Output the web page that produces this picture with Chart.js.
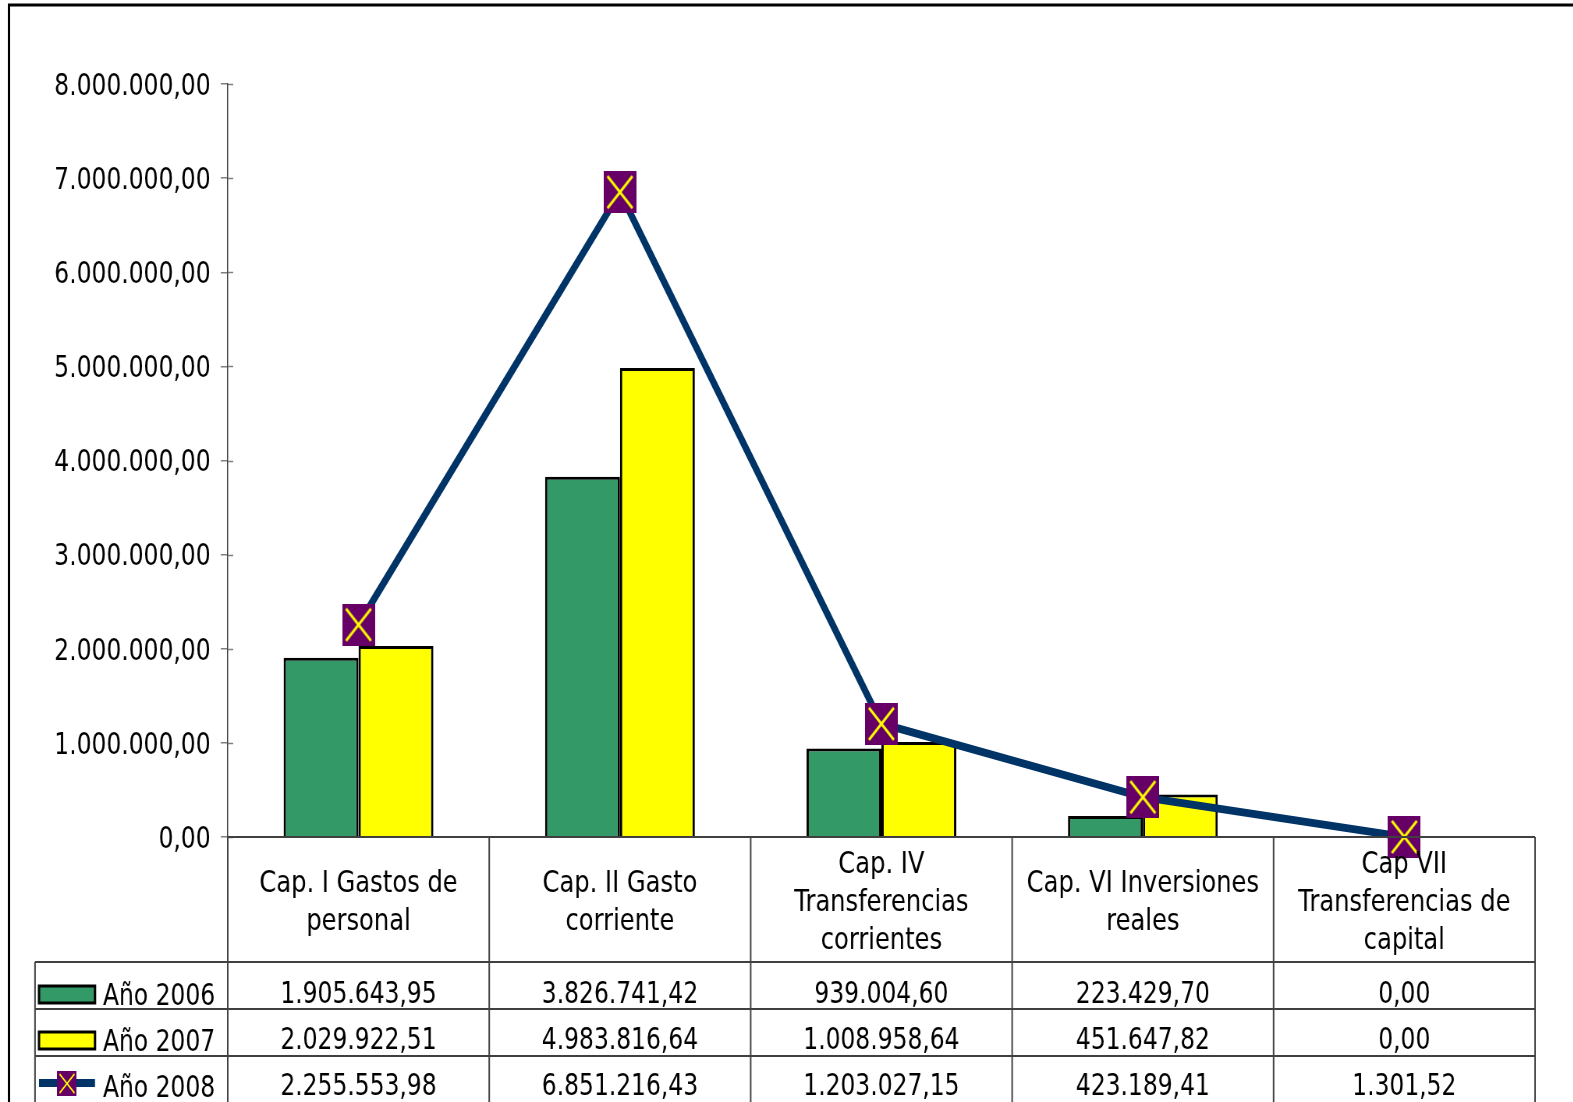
<!DOCTYPE html>
<html>
<head>
<meta charset="utf-8">
<script src="https://cdn.jsdelivr.net/npm/chart.js@4"></script>
<style>
  body { margin: 0; overflow: hidden; background: #fff; }
  /* the original picture is squeezed horizontally, so draw wide and squeeze */
  #wrap { width: 2017px; height: 1102px; transform: scaleX(0.78); transform-origin: 0 0; }
</style>
</head>
<body>
<div id="wrap"><canvas id="chart"></canvas></div>
<script>
// Data
const categories = [
  ["Cap. I Gastos de", "personal"],
  ["Cap. II Gasto", "corriente"],
  ["Cap. IV", "Transferencias", "corrientes"],
  ["Cap. VI Inversiones", "reales"],
  ["Cap VII", "Transferencias de", "capital"]
];
const seriesNames = ["Año 2006", "Año 2007", "Año 2008"];
const values2006 = [1905643.95, 3826741.42, 939004.60, 223429.70, 0];
const values2007 = [2029922.51, 4983816.64, 1008958.64, 451647.82, 0];
const values2008 = [2255553.98, 6851216.43, 1203027.15, 423189.41, 1301.52];
const yMax = 8000000;
const yStep = 1000000;

const FONT = "'DejaVu Sans', sans-serif";
const SX = 0.78;

function fmt(v) {
  const parts = v.toFixed(2).split('.');
  return parts[0].replace(/\B(?=(\d{3})+(?!\d))/g, '.') + ',' + parts[1];
}

// marker: purple square with yellow cross
const marker = document.createElement('canvas');
marker.width = 42; marker.height = 42;
(function () {
  const m = marker.getContext('2d');
  m.fillStyle = '#660066';
  m.fillRect(0, 0, 42, 42);
  m.strokeStyle = '#ffff00';
  m.lineWidth = 3;
  m.beginPath();
  m.moveTo(5, 5); m.lineTo(37, 37);
  m.moveTo(37, 5); m.lineTo(5, 37);
  m.stroke();
})();

const tablePlugin = {
  id: 'tablePlugin',
  afterDraw(chart) {
    const ctx = chart.ctx;
    const area = chart.chartArea;
    const left = area.left, right = area.right, bottom = area.bottom;
    const H = chart.height;
    const n = categories.length;
    const cw = (right - left) / n;
    const rows = [962, 1009, 1056];
    const tableLeft = 35 / SX;

    ctx.save();
    // frame
    ctx.strokeStyle = '#000';
    ctx.lineWidth = 3;
    ctx.beginPath();
    ctx.moveTo(11.5, H + 5);
    ctx.lineTo(11.5, 5);
    ctx.lineTo(chart.width + 5, 5);
    ctx.stroke();

    // inner part of y ticks
    const y = chart.scales.y;
    ctx.strokeStyle = '#808080';
    ctx.lineWidth = 1.5;
    y.ticks.forEach(t => {
      const py = Math.round(y.getPixelForValue(t.value)) + 0.5;
      ctx.beginPath();
      ctx.moveTo(left, py);
      ctx.lineTo(left + 7, py);
      ctx.stroke();
    });

    // table grid
    ctx.strokeStyle = '#404040';
    ctx.lineWidth = 2;
    ctx.beginPath();
    ctx.moveTo(left, bottom); ctx.lineTo(right, bottom);
    for (let i = 0; i <= n; i++) {
      const x = left + i * cw;
      ctx.moveTo(x, bottom); ctx.lineTo(x, H);
    }
    rows.forEach(r => { ctx.moveTo(tableLeft, r); ctx.lineTo(right, r); });
    ctx.moveTo(tableLeft, rows[0]); ctx.lineTo(tableLeft, H);
    ctx.stroke();

    // category labels
    ctx.fillStyle = '#000';
    ctx.font = '31px ' + FONT;
    ctx.textAlign = 'center';
    ctx.textBaseline = 'alphabetic';
    categories.forEach((lines, i) => {
      const cx = left + (i + 0.5) * cw;
      lines.forEach((ln, k) => {
        ctx.fillText(ln, cx, 900 - (lines.length - 1) * 19 + k * 38 + 11);
      });
    });

    // values
    ctx.font = '30px ' + FONT;
    const all = [values2006, values2007, values2008];
    const baselines = [1003, 1049, 1095];
    all.forEach((vals, r) => {
      vals.forEach((v, i) => {
        ctx.fillText(fmt(v), left + (i + 0.5) * cw, baselines[r]);
      });
    });

    // legend keys
    ctx.textAlign = 'left';
    const kx0 = 39 / SX, kx1 = 95 / SX;
    ctx.lineWidth = 3;
    ctx.strokeStyle = '#000';
    ctx.fillStyle = '#339966';
    ctx.fillRect(kx0, 986, kx1 - kx0, 17);
    ctx.strokeRect(kx0, 986, kx1 - kx0, 17);
    ctx.fillStyle = '#ffff00';
    ctx.fillRect(kx0, 1032, kx1 - kx0, 17);
    ctx.strokeRect(kx0, 1032, kx1 - kx0, 17);
    ctx.strokeStyle = '#003366';
    ctx.lineWidth = 8;
    ctx.beginPath();
    ctx.moveTo(kx0, 1083); ctx.lineTo(kx1, 1083);
    ctx.stroke();
    ctx.drawImage(marker, (kx0 + kx1) / 2 - 12.5, 1071, 25, 25);

    ctx.fillStyle = '#000';
    seriesNames.forEach((s, r) => {
      ctx.fillText(s, 103 / SX, baselines[r] + 2);
    });
    ctx.restore();
  }
};

const ctx = document.getElementById('chart').getContext('2d');
const chart = new Chart(ctx, {
  data: {
    labels: categories,
    datasets: [
      {
        type: 'line',
        label: seriesNames[2],
        data: values2008,
        borderColor: '#003366',
        borderWidth: 8,
        pointStyle: marker,
        pointRadius: 21,
        tension: 0,
        clip: false,
        order: 0
      },
      {
        type: 'bar',
        label: seriesNames[0],
        data: values2006,
        backgroundColor: '#339966',
        borderColor: '#000',
        borderWidth: 3,
        order: 1
      },
      {
        type: 'bar',
        label: seriesNames[1],
        data: values2007,
        backgroundColor: '#ffff00',
        borderColor: '#000',
        borderWidth: 3,
        order: 1
      }
    ]
  },
  options: {
    responsive: true,
    maintainAspectRatio: false,
    animation: false,
    devicePixelRatio: 1,
    layout: { padding: { top: 84, bottom: 265, left: 0, right: 49 } },
    datasets: {
      bar: { categoryPercentage: 0.573, barPercentage: 1 }
    },
    plugins: {
      legend: { display: false },
      tooltip: { enabled: false }
    },
    scales: {
      x: { display: false },
      y: {
        min: 0,
        max: yMax,
        afterFit(scale) { scale.width = 292; },
        ticks: {
          stepSize: yStep,
          padding: 13,
          labelOffset: 3,
          color: '#000',
          font: { family: FONT, size: 30 },
          callback: v => fmt(v)
        },
        grid: { drawOnChartArea: false, tickLength: 9, color: '#808080', lineWidth: 1.5 },
        border: { color: '#404040', width: 1.5 }
      }
    }
  },
  plugins: [tablePlugin]
});
</script>
</body>
</html>
